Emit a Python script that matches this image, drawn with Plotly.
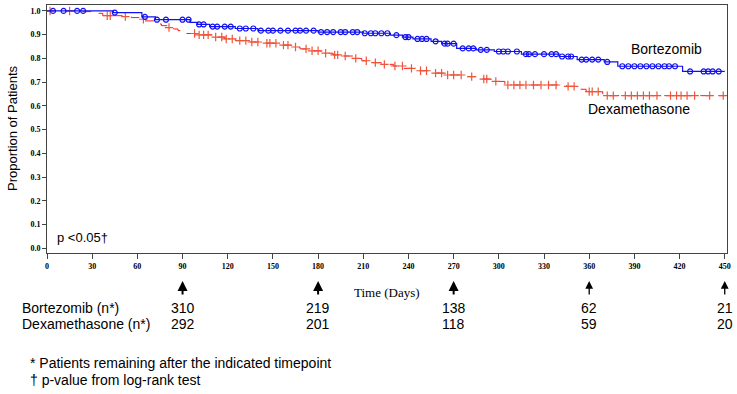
import plotly.graph_objects as go

# ---------------- data ----------------
bort_event_days = [44, 63, 72, 95, 100, 108, 125, 140, 180, 210, 228, 236, 243, 255, 262, 272, 285, 297, 315, 340, 352, 370, 379, 422]
bort_surv = [0.993, 0.975, 0.963, 0.952, 0.943, 0.934, 0.926, 0.917, 0.911, 0.906, 0.898, 0.89, 0.882, 0.872, 0.862, 0.842, 0.836, 0.829, 0.818, 0.808, 0.795, 0.785, 0.767, 0.745]
bort_censor_days = [4, 11, 20, 24, 45, 65, 73, 79, 90, 94, 101, 104, 110, 113, 118, 122, 128, 132, 137, 142, 147, 150, 155, 160, 165,
                    168, 172, 177, 182, 186, 190, 195, 198, 203, 206, 211, 215, 218, 222, 226, 232, 238, 240, 246, 249, 252, 258,
                    264, 266, 270, 276, 280, 283, 288, 292, 300, 303, 306, 312, 318, 320, 324, 330, 335, 338, 342, 346, 348, 355,
                    358, 362, 366, 372, 382, 386, 390, 394, 398, 402, 406, 410, 413, 417, 427, 436, 439, 442, 446]

dexa_event_days = [20, 32, 37, 50, 56, 62, 65, 71, 76, 80, 84, 87, 92, 100, 110, 118, 125, 135, 145, 155, 162, 168, 175, 182, 190,
                   196, 204, 209, 216, 222, 230, 237, 245, 253, 265, 279, 288, 295, 304, 345, 352, 358, 369]
dexa_surv = [0.997, 0.99, 0.98, 0.976, 0.972, 0.965, 0.958, 0.945, 0.938, 0.93, 0.924, 0.917, 0.905, 0.899, 0.89, 0.882, 0.875,
             0.869, 0.864, 0.856, 0.848, 0.84, 0.832, 0.822, 0.815, 0.81, 0.8, 0.79, 0.782, 0.775, 0.768, 0.758, 0.748, 0.738,
             0.73, 0.723, 0.713, 0.703, 0.688, 0.682, 0.67, 0.66, 0.643]
dexa_censor_days = [2, 15, 40, 42, 52, 64, 81, 98, 101, 104, 107, 112, 116, 119, 123, 128, 132, 136, 140, 146, 148, 152, 157, 160,
                    165, 172, 176, 180, 185, 191, 193, 198, 205, 212, 218, 224, 231, 236, 242, 248, 252, 258, 262, 266, 270, 275,
                    282, 290, 292, 298, 306, 310, 314, 318, 323, 328, 333, 338, 346, 350, 360, 362, 366, 372, 376, 384, 388,
                    392, 396, 400, 405, 414, 418, 421, 425, 430, 440, 449]

end_day = 450
timepoints = [90, 180, 270, 360, 450]
n_bort = [310, 219, 138, 62, 21]
n_dexa = [292, 201, 118, 59, 20]

x_ticks = list(range(0, 451, 30))
y_ticks = [i / 10 for i in range(11)]

BLUE = "#1010f0"
RED = "#ff1a1a"


def step_xy(days, surv):
    xs, ys = [0], [1.0]
    for d, s in zip(days, surv):
        xs.append(d)
        ys.append(s)
    xs.append(end_day)
    ys.append(surv[-1])
    return xs, ys


def surv_at(t, days, surv):
    v = 1.0
    for d, s in zip(days, surv):
        if d <= t:
            v = s
    return v


fig = go.Figure()

bx, by = step_xy(bort_event_days, bort_surv)
dx, dy = step_xy(dexa_event_days, dexa_surv)

fig.add_trace(go.Scatter(x=dx, y=dy, mode="lines", line=dict(shape="hv", color=RED, width=1, dash="dash"),
                         showlegend=False, hoverinfo="skip"))
fig.add_trace(go.Scatter(x=dexa_censor_days, y=[surv_at(t, dexa_event_days, dexa_surv) for t in dexa_censor_days],
                         mode="markers", marker=dict(symbol="cross-thin-open", size=6, line=dict(color=RED, width=1.2)),
                         showlegend=False))
fig.add_trace(go.Scatter(x=bx, y=by, mode="lines", line=dict(shape="hv", color=BLUE, width=1.2),
                         showlegend=False, hoverinfo="skip"))
fig.add_trace(go.Scatter(x=bort_censor_days, y=[surv_at(t, bort_event_days, bort_surv) for t in bort_censor_days],
                         mode="markers", marker=dict(symbol="circle-open", size=5, color=BLUE, line=dict(color=BLUE, width=1.2)),
                         showlegend=False))

# pixel helpers (plot area: x 47..727, y 5..253)
PL, PR, PT, PB = 47, 727, 5, 253


def px(xp):
    return (xp - PL) / (PR - PL)


def py(yp):
    return (PB - yp) / (PB - PT)


SANS = "Liberation Sans, Arial, sans-serif"
SERIF = "Liberation Serif, Times New Roman, serif"

ann = []
ann.append(dict(text="Proportion of Patients", xref="paper", yref="paper", x=px(12), y=py(128), textangle=-90,
                showarrow=False, font=dict(family=SANS, size=13, color="black"), xanchor="center", yanchor="middle"))
ann.append(dict(text="Time (Days)", xref="paper", yref="paper", x=px(387), y=py(292), showarrow=False,
                font=dict(family=SERIF, size=13, color="black"), xanchor="center", yanchor="middle"))
ann.append(dict(text="p &lt;0.05†", xref="paper", yref="paper", x=px(55), y=py(237), showarrow=False,
                font=dict(family=SANS, size=13, color="black"), xanchor="left", yanchor="middle"))
ann.append(dict(text="Bortezomib", xref="paper", yref="paper", x=px(629), y=py(49), showarrow=False,
                font=dict(family=SANS, size=14, color="black"), xanchor="left", yanchor="middle"))
ann.append(dict(text="Dexamethasone", xref="paper", yref="paper", x=px(586), y=py(109), showarrow=False,
                font=dict(family=SANS, size=14, color="black"), xanchor="left", yanchor="middle"))

ann.append(dict(text="Bortezomib (n*)", xref="paper", yref="paper", x=px(20), y=py(308), showarrow=False,
                font=dict(family=SANS, size=14, color="black"), xanchor="left", yanchor="middle"))
ann.append(dict(text="Dexamethasone (n*)", xref="paper", yref="paper", x=px(20), y=py(324), showarrow=False,
                font=dict(family=SANS, size=14, color="black"), xanchor="left", yanchor="middle"))

for i, (t, nb, nd) in enumerate(zip(timepoints, n_bort, n_dexa)):
    ann.append(dict(text="", xref="x", yref="paper", x=t, y=py(281), showarrow=True, ax=0, ay=15,
                    arrowhead=2, arrowsize=1 if i < 3 else 1.2, arrowwidth=2 if i < 3 else 1.3,
                    arrowcolor="black", standoff=0))
    ann.append(dict(text=str(nb), xref="x", yref="paper", x=t, y=py(308), showarrow=False,
                    font=dict(family=SANS, size=14, color="black"), xanchor="center", yanchor="middle"))
    ann.append(dict(text=str(nd), xref="x", yref="paper", x=t, y=py(324), showarrow=False,
                    font=dict(family=SANS, size=14, color="black"), xanchor="center", yanchor="middle"))

ann.append(dict(text="* Patients remaining after the indicated timepoint", xref="paper", yref="paper", x=px(28), y=py(363),
                showarrow=False, font=dict(family=SANS, size=14, color="black"), xanchor="left", yanchor="middle"))
ann.append(dict(text="† p-value from log-rank test", xref="paper", yref="paper", x=px(28), y=py(380),
                showarrow=False, font=dict(family=SANS, size=14, color="black"), xanchor="left", yanchor="middle"))

fig.update_layout(
    width=737, height=394,
    margin=dict(l=PL, r=737 - PR, t=PT, b=394 - PB),
    paper_bgcolor="white", plot_bgcolor="white",
    annotations=ann,
    xaxis=dict(range=[0, 451.5], tickvals=x_ticks, ticktext=[str(v) for v in x_ticks], showgrid=False, zeroline=False,
               showline=True, linecolor="#444", linewidth=1, mirror=True, ticks="outside", ticklen=5, tickcolor="#444",
               tickfont=dict(family=SERIF, size=8, color="black", weight="bold")),
    yaxis=dict(range=[-0.02, 1.025], tickvals=y_ticks, ticktext=[f"{v:.1f}" for v in y_ticks], showgrid=False,
               zeroline=False, showline=True, linecolor="#444", linewidth=1, mirror=True, ticks="outside", ticklen=4,
               tickcolor="#444", tickfont=dict(family=SERIF, size=8, color="black", weight="bold")),
)

fig.write_html("out.html", config={"displayModeBar": False},
               post_script="document.body.style.margin='0';document.body.style.overflow='hidden';")
